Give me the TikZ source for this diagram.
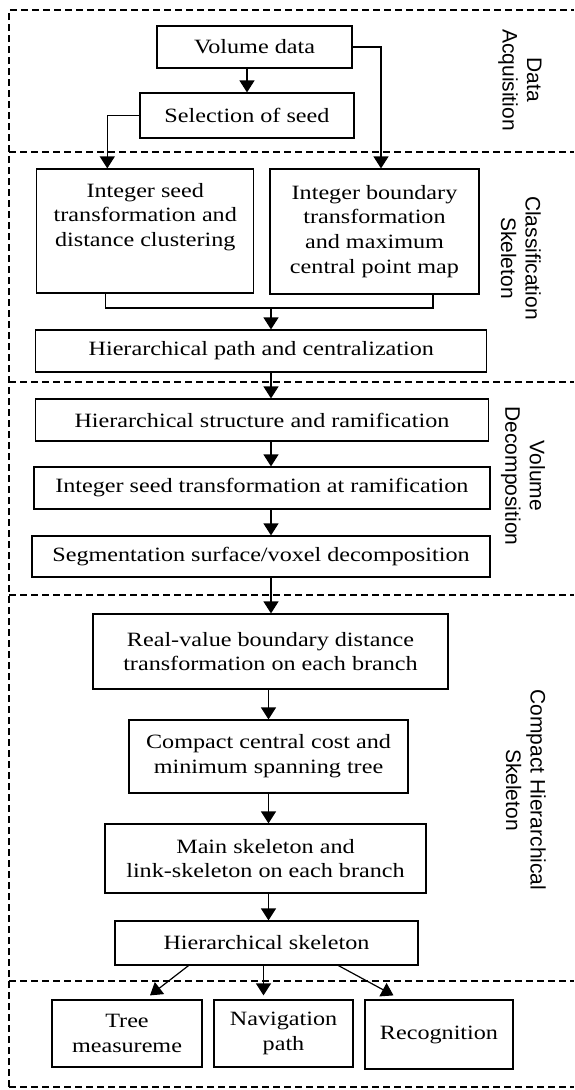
\documentclass[tikz,border=0pt]{standalone}
\usepackage{fontspec}
\setmainfont[FakeStretch=1.19]{Liberation Serif}
\newfontfamily\sidefont{Liberation Sans}
\usetikzlibrary{arrows.meta}
\begin{document}
\begin{tikzpicture}[x=1pt,y=-1pt,
  box/.style={draw,line width=1.2pt,align=center,inner sep=0pt,font=\fontsize{20.3}{24.8}\selectfont},
  arr/.style={line width=1.2pt,-{Triangle[width=15pt,length=12pt]}},
  conn/.style={line width=1.2pt},
  sep/.style={line width=1.3pt,dash pattern=on 7pt off 4pt},
  side/.style={rotate=-90,align=center,font=\sidefont\fontsize{21}{24.5}\selectfont}]
\useasboundingbox (0,0) rectangle (574,1090);
% frame and separators
\draw[sep] (9,1087) -- (9,10) -- (574,10);
\draw[sep] (9,1087) -- (574,1087);
\foreach \yy in {152,382,595,981} \draw[sep] (9,\yy) -- (574,\yy);
% boxes
\node[box,minimum width=195pt,minimum height=42pt] (vol) at (254.5,47) {Volume data};
\node[box,minimum width=214pt,minimum height=45pt] (sel) at (247,115.5) {Selection of seed};
\node[box,minimum width=217pt,minimum height=124pt] (iseed) at (145.3,231) {Integer seed\\transformation and\\distance clustering\\\strut};
\node[box,minimum width=209pt,minimum height=125pt] (ibound) at (374.5,231.5) {Integer boundary\\transformation\\and maximum\\central point map};
\node[box,minimum width=451pt,minimum height=42pt] (hpath) at (261.3,351) {Hierarchical path and centralization};
\node[box,minimum width=453pt,minimum height=42pt] (hstruct) at (262,420) {Hierarchical structure and ramification};
\node[box,minimum width=456pt,minimum height=42pt] (iseedr) at (261.9,488) {Integer seed transformation at ramification};
\node[box,minimum width=458pt,minimum height=41pt] (seg) at (261,556.5) {Segmentation surface/voxel decomposition};
\node[box,minimum width=355pt,minimum height=75pt] (real) at (270.5,651.5) {Real-value boundary distance\\transformation on each branch};
\node[box,minimum width=279pt,minimum height=73pt] (comp) at (268.5,756.5) {Compact central cost and\\minimum spanning tree};
\node[box,minimum width=321pt,minimum height=69pt] (main) at (265.5,858.5) {Main skeleton and\\link-skeleton on each branch};
\node[box,minimum width=303pt,minimum height=44pt] (hskel) at (266.5,943) {Hierarchical skeleton};
\node[box,minimum width=150pt,minimum height=67pt] (tree) at (127,1033.5) {Tree\\measureme};
\node[box,minimum width=139pt,minimum height=67pt] (nav) at (283.5,1033.5) {Navigation\\path};
\node[box,minimum width=148pt,minimum height=69pt] (rec) at (439,1034.5) {Recognition};
% side labels
\node[side] (lda) at (520,80) {Data\\Acquisition};
\node[side] (lcs) at (521,258) {Classification\\Skeleton};
\node[side] (lvd) at (523,476) {Volume\\Decomposition};
\node[side] (lch) at (526,790) {Compact Hierarchical\\Skeleton};
% connectors
\coordinate (m) at (271,308);
\coordinate (c2) at (268.5,0);
\draw[arr] (sel.north |- vol.south) -- (sel.north);
\draw[arr] (vol.east) -| ([xshift=6.5pt]ibound.north);
\draw[arr] (sel.west) -| ([xshift=-38pt]iseed.north);
\draw[conn] ([xshift=-40pt]iseed.south) |- (m) -| ([xshift=58.5pt]ibound.south);
\draw[arr] (m) -- (m |- hpath.north);
\draw[arr] (m |- hpath.south) -- (m |- hstruct.north);
\draw[arr] (m |- hstruct.south) -- (m |- iseedr.north);
\draw[arr] (m |- iseedr.south) -- (m |- seg.north);
\draw[arr] (m |- seg.south) -- (m |- real.north);
\draw[arr] (c2 |- real.south) -- (c2 |- comp.north);
\draw[arr] (c2 |- comp.south) -- (c2 |- main.north);
\draw[arr] (c2 |- main.south) -- (c2 |- hskel.north);
\draw[arr] ([xshift=-78pt]hskel.south) -- ([xshift=23pt,yshift=4pt]tree.north);
\draw[arr] ([xshift=-3pt]hskel.south) -- ([xshift=-20pt,yshift=4pt]nav.north);
\draw[arr] ([xshift=72pt]hskel.south) -- ([xshift=-45.5pt,yshift=4pt]rec.north);
\end{tikzpicture}
\end{document}
